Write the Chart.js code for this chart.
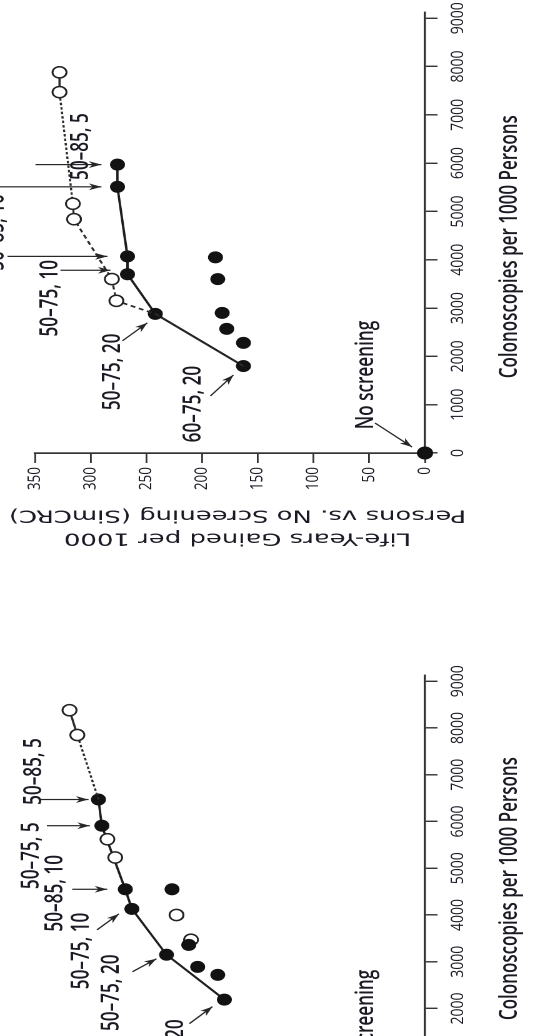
<!DOCTYPE html>
<html>
<head>
<meta charset="utf-8">
<script src="https://cdn.jsdelivr.net/npm/chart.js@4.4.1/dist/chart.umd.min.js"></script>
<style>
    html, body { margin: 0; padding: 0; background: #fff; overflow: hidden; }
    #page  { position: relative; width: 539px; height: 1036px; overflow: hidden; background: #fff; }
    /* the figure is a scanned page turned on its side: draw it upright, then turn it */
    #sheet { position: absolute; left: 0; top: 0; width: 1036px; height: 431px;
             transform-origin: 0 0; transform: translate(0, 1036px) scaleX(1.25) rotate(-90deg); }
    .panel { position: absolute; top: 0; height: 431px; }
    #topPanel { left: 470px; width: 572px; }
    #botPanel { left: -179px; width: 558px; }
</style>
</head>
<body>
<div id="page">
  <div id="sheet">
    <div class="panel" id="topPanel"><canvas id="topChart" width="572" height="431"></canvas></div>
    <div class="panel" id="botPanel"><canvas id="botChart" width="558" height="431"></canvas></div>
  </div>
</div>
<script>
// ---- data (colonoscopies per 1000, life-years gained per 1000) ----
const frontierLabels = ['60–75, 20', '50–75, 20', '50–75, 10', '50–85, 10', '50–75, 5', '50–85, 5'];

// upper panel
const topFrontierX = [1800, 2880, 3700, 4070, 5510, 5970];
const topFrontierY = [163, 242, 267, 267, 276, 276];
const topOpenX     = [3150, 3600, 4840, 5160, 7470, 7880];
const topOpenY     = [277, 281, 315, 316, 328, 328];
const topOtherX    = [2280, 2570, 2900, 3600, 4050];
const topOtherY    = [163, 178, 182, 186, 188];

// lower panel (cut off by the page edge)
const botFrontierX = [2190, 3150, 4130, 4550, 5910, 6470];
const botFrontierY = [180, 232, 263, 269, 290, 293];
const botOpenX     = [5230, 5620, 7850, 8380];
const botOpenY     = [278, 285, 312, 319];
const botOtherX    = [2720, 2890, 3360, 4550];
const botOtherY    = [186, 204, 212, 227];
const botOtherOpenX = [3470, 4000];
const botOtherOpenY = [210, 223];

const noScreeningX = [0];
const noScreeningY = [0];

const xTicks = [0, 1000, 2000, 3000, 4000, 5000, 6000, 7000, 8000, 9000];
const yTicks = [0, 50, 100, 150, 200, 250, 300, 350];

const xTitle = 'Colonoscopies per 1000 Persons';
const yTitle = ['Life-Years Gained per 1000', 'Persons vs. No Screening (SimCRC)'];

const SX = 1.25;          // horizontal stretch of the scan
const INK  = '#1a1a24';
const AXIS = '#333';
const LABEL_FONT = "'Open Sans', 'Liberation Sans', sans-serif";

function pts(xs, ys) { return xs.map((x, i) => ({ x, y: ys[i] })); }

// arrows + labels; offsets are [dX, dY] measured on the turned page, relative to the dot
const topNotes = [
    { idx: 5, text: '50–85, 5',  from: [-82, 0],   to: [-16, 0],  at: [-36, -18] },
    { idx: 4, text: '50–75, 5',  from: [-125, 0],  to: [-16, 0],  at: [-150, -40] },
    { idx: 3, text: '50–85, 10', from: [-120, 0],  to: [-20, 0],  at: [-131, -24] },
    { idx: 2, text: '50–75, 10', from: [-67, -4],  to: [-17, -4], at: [-77, 24] },
    { idx: 1, text: '50–75, 20', from: [-33, 27],  to: [-8, 9],   at: [-42, 58] },
    { idx: 0, text: '60–75, 20', from: [-33, 30],  to: [-10, 9],  at: [-50, 38] },
    { idx: -1, text: 'No screening', from: [-50, -30], to: [-13, -6], at: [-59, -78] },
];
const botNotes = [
    { idx: 5, text: '50–85, 5',  from: [-58, 0],  to: [-10, 0], at: [-64, -28] },
    { idx: 4, text: '50–75, 5',  from: [-55, 0],  to: [-12, 0], at: [-70, 30] },
    { idx: 3, text: '50–85, 10', from: [-53, 0],  to: [-18, 0], at: [-70, 4] },
    { idx: 2, text: '50–75, 10', from: [-35, 21], to: [-13, 5], at: [-50, 42] },
    { idx: 1, text: '50–75, 20', from: [-34, 17], to: [-10, 4], at: [-55, 38] },
    { idx: 0, text: '60–75, 20', from: [-35, 24], to: [-12, 7], at: [-48, 58] },
    { idx: -1, text: 'No screening', from: [-50, -30], to: [-13, -6], at: [-59, -78] },
];

// screen offset -> upright canvas offset
function toUpright(d) { return [-d[1], d[0] / SX]; }

// text squeezed (or widened) along its own direction, like the scanned lettering
function drawSqueezed(ctx, text, x, y, rot, squeeze) {
    ctx.save();
    ctx.translate(x, y);
    ctx.rotate(rot);
    ctx.scale(squeeze, 1);
    ctx.textAlign = 'left';
    ctx.textBaseline = 'middle';
    const w = ctx.measureText(text).width;
    ctx.fillText(text, -w / 2, 0);
    ctx.restore();
}

const notesPlugin = {
    id: 'notes',
    afterDatasetsDraw(chart) {
        const opts = chart.options.plugins.notes;
        const ctx = chart.ctx;
        const sx = chart.scales.x, sy = chart.scales.y;
        ctx.save();
        opts.items.forEach(n => {
            const vx = n.idx < 0 ? noScreeningX[0] : opts.xs[n.idx];
            const vy = n.idx < 0 ? noScreeningY[0] : opts.ys[n.idx];
            const px = sx.getPixelForValue(vx), py = sy.getPixelForValue(vy);
            const a = toUpright(n.from), b = toUpright(n.to), t = toUpright(n.at);
            const x0 = px + a[0], y0 = py + a[1], x1 = px + b[0], y1 = py + b[1];
            ctx.strokeStyle = '#262626';
            ctx.fillStyle = '#262626';
            ctx.lineWidth = 1.2;
            ctx.beginPath(); ctx.moveTo(x0, y0); ctx.lineTo(x1, y1); ctx.stroke();
            // arrow head
            const ang = Math.atan2(y1 - y0, x1 - x0);
            const L = 10, W = 3.4;
            ctx.beginPath();
            ctx.moveTo(x1, y1);
            ctx.lineTo(x1 - L * Math.cos(ang) + W * Math.sin(ang), y1 - L * Math.sin(ang) - W * Math.cos(ang));
            ctx.lineTo(x1 - L * 0.7 * Math.cos(ang), y1 - L * 0.7 * Math.sin(ang));
            ctx.lineTo(x1 - L * Math.cos(ang) - W * Math.sin(ang), y1 - L * Math.sin(ang) + W * Math.cos(ang));
            ctx.closePath(); ctx.fill();
            // label
            ctx.fillStyle = INK;
            ctx.font = '600 19.5px ' + LABEL_FONT;
            drawSqueezed(ctx, n.text, px + t[0], py + t[1], 0, 0.88);
        });
        ctx.restore();
    },
    // axis titles, drawn by hand so the lettering can be stretched like the scan
    afterDraw(chart) {
        const opts = chart.options.plugins.notes;
        const ctx = chart.ctx;
        const area = chart.chartArea;
        ctx.save();
        ctx.fillStyle = INK;
        ctx.font = '600 20px ' + LABEL_FONT;
        drawSqueezed(ctx, xTitle, (area.left + area.right) / 2 + opts.titleShift, chart.height - 23, 0, 0.85);
        ctx.font = "17px 'DejaVu Sans', sans-serif";
        const midY = (area.top + area.bottom) / 2 + 6;
        yTitle.forEach((line, i) => {
            drawSqueezed(ctx, line, 28 + i * 23, midY, -Math.PI / 2, 1.22);
        });
        ctx.restore();
    },
};

function makePanel(canvasId, cfg) {
    const dot = { pointRadius: 6, pointBackgroundColor: '#121212', pointBorderWidth: 0, pointHoverRadius: 6 };
    const ring = { pointRadius: 5.6, pointBackgroundColor: '#fff', pointBorderColor: '#222', pointBorderWidth: 1.5, pointHoverRadius: 5.6 };

    const datasets = [
        // open-circle path (dashed, then dotted towards the costliest strategies)
        Object.assign({
            data: cfg.openPath, showLine: true, borderColor: '#2a2a2a', borderWidth: 1.7,
            segment: { borderDash: c => cfg.openDash(c.p0DataIndex) },
        }, ring, { pointRadius: c => cfg.openPath[c.dataIndex].hide ? 0 : 5.6 }),
        Object.assign({ data: cfg.other, showLine: false }, dot),
        Object.assign({ data: cfg.otherOpen || [], showLine: false }, ring),
        Object.assign({ data: cfg.frontier, showLine: true, borderColor: '#1e1e1e', borderWidth: 1.9 }, dot),
        Object.assign({ data: pts(noScreeningX, noScreeningY), showLine: false, clip: false }, dot, { pointRadius: 6.5 }),
    ];

    return new Chart(document.getElementById(canvasId), {
        type: 'scatter',
        data: { datasets },
        plugins: [notesPlugin],
        options: {
            responsive: false,
            animation: false,
            devicePixelRatio: 2,
            layout: { padding: { left: 0, right: 16, top: 28, bottom: 0 } },
            plugins: {
                legend: { display: false },
                tooltip: { enabled: false },
                notes: { items: cfg.notes, xs: cfg.fx, ys: cfg.fy, titleShift: cfg.titleShift },
            },
            scales: {
                x: {
                    type: 'linear', position: 'bottom', min: 0, max: cfg.xMax,
                    afterBuildTicks: s => { s.ticks = xTicks.map(v => ({ value: v })); },
                    afterFit: s => { s.height = 91; },
                    ticks: { color: INK, font: { family: LABEL_FONT, size: 14 }, padding: 8, maxRotation: 0, autoSkip: false,
                             callback: v => String(v) },
                    grid: { drawOnChartArea: false, drawTicks: true, tickLength: 10, color: AXIS, lineWidth: 1.4 },
                    border: { display: true, color: AXIS, width: 1.7 },
                },
                y: {
                    type: 'linear', position: 'left', min: 0, max: 350,
                    afterBuildTicks: s => { s.ticks = yTicks.map(v => ({ value: v })); },
                    afterFit: s => { s.width = 113; },
                    ticks: { color: INK, font: { family: LABEL_FONT, size: 13.5 }, padding: 4, callback: v => String(v) },
                    grid: { drawOnChartArea: false, drawTicks: true, tickLength: 10, color: AXIS, lineWidth: 1.4 },
                    border: { display: true, color: AXIS, width: 1.7 },
                },
            },
        },
    });
}

// upper panel: dashed path starts at the two cheapest frontier dots
const topPath = [
    { x: topFrontierX[0], y: topFrontierY[0], hide: true },
    { x: topFrontierX[1], y: topFrontierY[1], hide: true },
].concat(pts(topOpenX, topOpenY));

makePanel('topChart', {
    xMax: 9120,
    titleShift: -14,
    frontier: pts(topFrontierX, topFrontierY),
    fx: topFrontierX, fy: topFrontierY,
    other: pts(topOtherX, topOtherY),
    openPath: topPath,
    openDash: i => (i >= 6 ? [] : i === 5 ? [2.5, 2] : i === 4 ? [] : [4, 3]),
    notes: topNotes,
});

// lower panel: open dots sit on the solid line, dotted tail from the last frontier dot
const botPath = [{ x: botFrontierX[5], y: botFrontierY[5], hide: true }]
    .concat(pts(botOpenX.slice(2), botOpenY.slice(2)));

makePanel('botChart', {
    xMax: 9130,
    titleShift: 0,
    frontier: pts(botFrontierX, botFrontierY),
    fx: botFrontierX, fy: botFrontierY,
    other: pts(botOtherX, botOtherY),
    otherOpen: pts(botOtherOpenX, botOtherOpenY).concat(pts(botOpenX.slice(0, 2), botOpenY.slice(0, 2))),
    openPath: botPath,
    openDash: i => (i === 0 ? [2.5, 2] : []),
    notes: botNotes,
});
</script>
</body>
</html>
